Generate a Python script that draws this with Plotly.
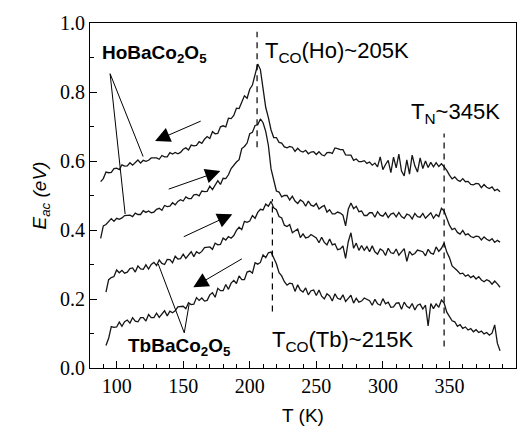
import plotly.graph_objects as go

# Temperature grid (K)
temps = list(range(88, 390, 2))

# HoBaCo2O5, cooling (top curve)
ho_cool = [
    0.540, 0.549, 0.568, 0.566, 0.567, 0.578, 0.579, 0.575, 0.589, 0.585,
    0.586, 0.595, 0.588, 0.596, 0.603, 0.594, 0.602, 0.599, 0.602, 0.609,
    0.610, 0.609, 0.605, 0.616, 0.612, 0.612, 0.624, 0.620, 0.625, 0.621,
    0.625, 0.634, 0.638, 0.632, 0.646, 0.644, 0.645, 0.656, 0.651, 0.663,
    0.671, 0.665, 0.685, 0.679, 0.680, 0.699, 0.702, 0.699, 0.724, 0.723,
    0.732, 0.753, 0.752, 0.772, 0.789, 0.782, 0.808, 0.820, 0.848, 0.881,
    0.865, 0.806, 0.755, 0.726, 0.690, 0.668, 0.668, 0.654, 0.652, 0.641,
    0.638, 0.642, 0.640, 0.628, 0.637, 0.629, 0.626, 0.631, 0.621, 0.626,
    0.627, 0.619, 0.627, 0.618, 0.615, 0.624, 0.625, 0.622, 0.638, 0.636,
    0.633, 0.633, 0.618, 0.617, 0.617, 0.602, 0.606, 0.598, 0.598, 0.601,
    0.593, 0.597, 0.588, 0.594, 0.583, 0.612, 0.575, 0.590, 0.602, 0.566,
    0.611, 0.580, 0.620, 0.571, 0.557, 0.603, 0.562, 0.617, 0.586, 0.568,
    0.609, 0.578, 0.600, 0.581, 0.596, 0.583, 0.595, 0.584, 0.592, 0.583,
    0.573, 0.559, 0.548, 0.554, 0.545, 0.541, 0.549, 0.540, 0.541, 0.532,
    0.531, 0.535, 0.534, 0.523, 0.532, 0.524, 0.520, 0.525, 0.514, 0.518,
    0.511,
]

# HoBaCo2O5, heating (second curve)
ho_heat = [
    0.376, 0.412, 0.416, 0.425, 0.433, 0.425, 0.434, 0.431, 0.435, 0.442,
    0.443, 0.443, 0.439, 0.449, 0.445, 0.445, 0.456, 0.451, 0.455, 0.450,
    0.452, 0.460, 0.463, 0.457, 0.471, 0.468, 0.469, 0.479, 0.473, 0.483,
    0.488, 0.484, 0.496, 0.491, 0.491, 0.502, 0.503, 0.499, 0.513, 0.511,
    0.512, 0.527, 0.517, 0.530, 0.543, 0.532, 0.550, 0.549, 0.560, 0.578,
    0.588, 0.597, 0.604, 0.636, 0.642, 0.652, 0.679, 0.683, 0.703, 0.705,
    0.722, 0.711, 0.686, 0.645, 0.577, 0.540, 0.513, 0.510, 0.496, 0.500,
    0.500, 0.487, 0.498, 0.484, 0.477, 0.487, 0.482, 0.469, 0.484, 0.472,
    0.469, 0.477, 0.461, 0.467, 0.471, 0.452, 0.459, 0.447, 0.447, 0.452,
    0.449, 0.443, 0.412, 0.460, 0.478, 0.462, 0.469, 0.453, 0.455, 0.442,
    0.442, 0.450, 0.450, 0.437, 0.453, 0.443, 0.440, 0.450, 0.436, 0.446,
    0.449, 0.438, 0.451, 0.439, 0.434, 0.446, 0.443, 0.432, 0.448, 0.439,
    0.437, 0.448, 0.434, 0.442, 0.450, 0.434, 0.445, 0.439, 0.463, 0.455,
    0.431, 0.414, 0.401, 0.405, 0.393, 0.388, 0.399, 0.386, 0.389, 0.381,
    0.378, 0.382, 0.381, 0.371, 0.380, 0.373, 0.369, 0.375, 0.364, 0.370,
    0.365,
]

# TbBaCo2O5, heating (third curve)
tb_heat = [
    None, None, 0.220, 0.256, 0.262, 0.265, 0.284, 0.276, 0.283, 0.275,
    0.278, 0.288, 0.290, 0.278, 0.296, 0.287, 0.286, 0.299, 0.287, 0.300,
    0.306, 0.297, 0.313, 0.303, 0.300, 0.315, 0.314, 0.305, 0.324, 0.316,
    0.317, 0.330, 0.318, 0.328, 0.337, 0.323, 0.337, 0.332, 0.338, 0.349,
    0.350, 0.351, 0.344, 0.362, 0.357, 0.358, 0.377, 0.371, 0.381, 0.376,
    0.384, 0.399, 0.408, 0.401, 0.425, 0.422, 0.426, 0.442, 0.434, 0.451,
    0.460, 0.458, 0.475, 0.469, 0.483, 0.464, 0.459, 0.439, 0.435, 0.414,
    0.410, 0.416, 0.392, 0.397, 0.403, 0.378, 0.389, 0.377, 0.379, 0.387,
    0.383, 0.377, 0.363, 0.379, 0.364, 0.357, 0.374, 0.357, 0.360, 0.343,
    0.345, 0.354, 0.318, 0.366, 0.392, 0.347, 0.362, 0.341, 0.355, 0.341,
    0.352, 0.337, 0.354, 0.337, 0.330, 0.345, 0.340, 0.326, 0.347, 0.334,
    0.332, 0.345, 0.327, 0.336, 0.346, 0.309, 0.338, 0.328, 0.332, 0.342,
    0.340, 0.337, 0.325, 0.344, 0.333, 0.330, 0.351, 0.338, 0.347, 0.362,
    0.336, 0.320, 0.296, 0.290, 0.282, 0.273, 0.275, 0.266, 0.270, 0.262,
    0.267, 0.258, 0.265, 0.255, 0.250, 0.256, 0.252, 0.243, 0.252, 0.244,
    0.234,
]

# TbBaCo2O5, cooling (bottom curve)
tb_cool = [
    None, None, 0.065, 0.086, 0.120, 0.118, 0.119, 0.133, 0.121, 0.134,
    0.139, 0.130, 0.146, 0.136, 0.134, 0.146, 0.146, 0.136, 0.155, 0.146,
    0.146, 0.159, 0.147, 0.157, 0.166, 0.151, 0.165, 0.160, 0.166, 0.177,
    0.179, 0.179, 0.172, 0.189, 0.184, 0.185, 0.204, 0.196, 0.203, 0.194,
    0.196, 0.212, 0.218, 0.205, 0.231, 0.224, 0.224, 0.242, 0.228, 0.246,
    0.254, 0.245, 0.267, 0.256, 0.256, 0.278, 0.281, 0.275, 0.305, 0.301,
    0.306, 0.328, 0.320, 0.334, 0.336, 0.318, 0.302, 0.276, 0.267, 0.250,
    0.240, 0.246, 0.244, 0.222, 0.241, 0.226, 0.220, 0.232, 0.212, 0.224,
    0.226, 0.210, 0.226, 0.208, 0.200, 0.215, 0.209, 0.194, 0.215, 0.202,
    0.199, 0.212, 0.193, 0.202, 0.211, 0.188, 0.202, 0.191, 0.194, 0.203,
    0.200, 0.195, 0.182, 0.199, 0.186, 0.182, 0.201, 0.186, 0.191, 0.176,
    0.177, 0.188, 0.189, 0.170, 0.191, 0.179, 0.174, 0.187, 0.168, 0.182,
    0.185, 0.171, 0.182, 0.122, 0.187, 0.172, 0.186, 0.176, 0.197, 0.188,
    0.162, 0.151, 0.137, 0.134, 0.121, 0.126, 0.115, 0.119, 0.110, 0.114,
    0.105, 0.111, 0.103, 0.107, 0.099, 0.103, 0.095, 0.101, 0.125, 0.072,
    0.050,
]

x_ticks = [100, 150, 200, 250, 300, 350, 400]
y_ticks = [0.0, 0.2, 0.4, 0.6, 0.8, 1.0]

# transition temperatures marked by dashed lines
t_co_ho = 205.5
t_co_tb = 217
t_n = 346

fig = go.Figure()
for name, ys in [("HoBaCo2O5 cooling", ho_cool), ("HoBaCo2O5 heating", ho_heat),
                 ("TbBaCo2O5 heating", tb_heat), ("TbBaCo2O5 cooling", tb_cool)]:
    fig.add_trace(go.Scatter(x=temps, y=ys, mode="lines", name=name,
                             line=dict(color="#161616", width=1.3), connectgaps=False))

dash_style = dict(color="black", width=1.2, dash="6px,5px")
fig.add_shape(type="line", x0=t_co_ho, x1=t_co_ho, y0=0.64, y1=0.975, xref="x", yref="y", line=dash_style)
fig.add_shape(type="line", x0=t_co_tb, x1=t_co_tb, y0=0.164, y1=0.49, xref="x", yref="y", line=dash_style)
fig.add_shape(type="line", x0=t_n, x1=t_n, y0=0.062, y1=0.68, xref="x", yref="y", line=dash_style)

# label leader lines
thin = dict(color="black", width=1)
for (xa, ya, xb, yb) in [(95.1, 0.853, 119.9, 0.613), (95.1, 0.853, 106.4, 0.446),
                         (150.8, 0.102, 131.2, 0.302), (150.8, 0.102, 154.5, 0.186)]:
    fig.add_shape(type="line", x0=xa, y0=ya, x1=xb, y1=yb, xref="x", yref="y", line=thin)

# direction arrows (head at x,y; tail at ax,ay)
for (hx, hy, tx, ty) in [(128.9, 0.658, 164.3, 0.7175), (177.9, 0.571, 138.0, 0.517),
                         (186.9, 0.446, 149.3, 0.3785), (157.6, 0.234, 195.2, 0.319)]:
    fig.add_annotation(x=hx, y=hy, ax=tx, ay=ty, xref="x", yref="y", axref="x", ayref="y",
                       text="", showarrow=True, arrowhead=2, arrowsize=3, arrowwidth=1,
                       arrowcolor="black")

sans = "Liberation Sans, Arial, sans-serif"
fig.add_annotation(x=87.5, y=0.91, xref="x", yref="y", xanchor="left", yanchor="middle",
                   text="<b>HoBaCo<sub>2</sub>O<sub>5</sub></b>", showarrow=False,
                   font=dict(family=sans, size=19, color="black"))
fig.add_annotation(x=107.1, y=0.06, xref="x", yref="y", xanchor="left", yanchor="middle",
                   text="<b>TbBaCo<sub>2</sub>O<sub>5</sub></b>", showarrow=False,
                   font=dict(family=sans, size=19, color="black"))
fig.add_annotation(x=210.3, y=0.915, xref="x", yref="y", xanchor="left", yanchor="middle",
                   text="T<sub>CO</sub>(Ho)~205K", showarrow=False,
                   font=dict(family=sans, size=22, color="black"))
fig.add_annotation(x=319.5, y=0.74, xref="x", yref="y", xanchor="left", yanchor="middle",
                   text="T<sub>N</sub>~345K", showarrow=False,
                   font=dict(family=sans, size=22, color="black"))
fig.add_annotation(x=215.0, y=0.079, xref="x", yref="y", xanchor="left", yanchor="middle",
                   text="T<sub>CO</sub>(Tb)~215K", showarrow=False,
                   font=dict(family=sans, size=22, color="black"))

serif = "Liberation Serif, Times New Roman, serif"
fig.update_layout(
    width=530, height=434,
    margin=dict(l=90, r=14, t=16, b=64),
    paper_bgcolor="white", plot_bgcolor="white",
    showlegend=False,
    xaxis=dict(range=[80, 400], tickvals=x_ticks, ticks="inside", ticklen=7, tickwidth=1,
               tickcolor="black", showline=True, linecolor="black", linewidth=1, mirror=True,
               showgrid=False, zeroline=False,
               minor=dict(dtick=10, tick0=80, ticks="inside", ticklen=4, tickcolor="black", showgrid=False),
               tickfont=dict(family=serif, size=20, color="black"),
               title=dict(text="T (K)", font=dict(family=sans, size=19, color="black"), standoff=12)),
    yaxis=dict(range=[0, 1.0], tickvals=y_ticks, tickformat=".1f", ticks="inside", ticklen=7,
               tickwidth=1, tickcolor="black", showline=True, linecolor="black", linewidth=1,
               mirror=True, showgrid=False, zeroline=False,
               minor=dict(dtick=0.1, ticks="inside", ticklen=4, tickcolor="black", showgrid=False),
               tickfont=dict(family=serif, size=20, color="black"),
               title=dict(text="<i>E<sub>ac</sub> (eV)</i>", font=dict(family=sans, size=19, color="black"),
                          standoff=8)),
)

fig.write_html("out.html")
